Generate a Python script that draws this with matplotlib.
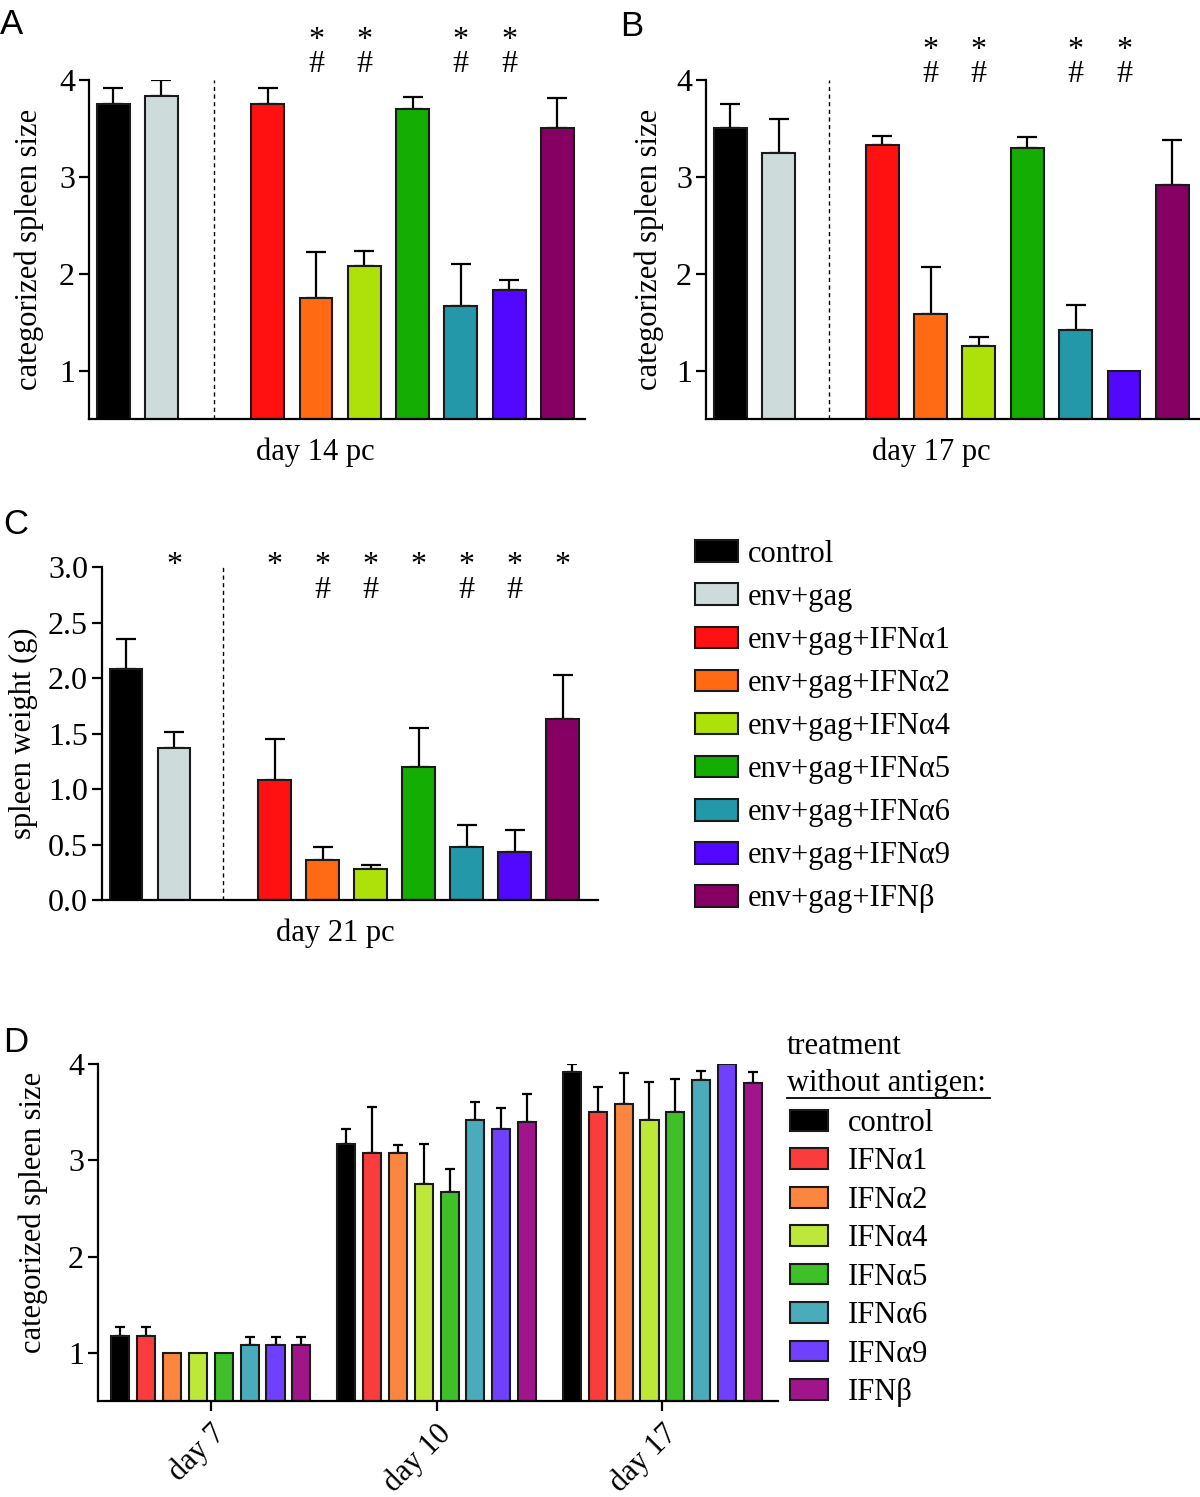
import matplotlib
matplotlib.use('Agg')
import matplotlib.pyplot as plt
from matplotlib.lines import Line2D
import numpy as np

plt.rcParams['font.family'] = ['Liberation Serif', 'DejaVu Serif']
plt.rcParams['font.size'] = 22
plt.rcParams['axes.linewidth'] = 1.6

# groups with antigen (panels A-C)
groups = ['control', 'env+gag', 'env+gag+IFNα1', 'env+gag+IFNα2', 'env+gag+IFNα4',
          'env+gag+IFNα5', 'env+gag+IFNα6', 'env+gag+IFNα9', 'env+gag+IFNβ']
colors = ['#000000', '#cddbdb', '#ff1111', '#ff6a12', '#aee00a',
          '#13ad03', '#2398a8', '#5208ff', '#860063']

a_mean = [3.75, 3.83, 3.75, 1.75, 2.08, 3.70, 1.67, 1.83, 3.50]
a_sem = [0.17, 0.17, 0.17, 0.47, 0.15, 0.12, 0.43, 0.10, 0.31]
a_star = [0, 0, 0, 1, 1, 0, 1, 1, 0]
a_hash = [0, 0, 0, 1, 1, 0, 1, 1, 0]

b_mean = [3.50, 3.25, 3.33, 1.58, 1.25, 3.30, 1.42, 1.00, 2.92]
b_sem = [0.25, 0.35, 0.09, 0.49, 0.10, 0.11, 0.26, 0.0, 0.46]
b_star = [0, 0, 0, 1, 1, 0, 1, 1, 0]
b_hash = [0, 0, 0, 1, 1, 0, 1, 1, 0]

c_mean = [2.085, 1.365, 1.08, 0.36, 0.28, 1.20, 0.48, 0.435, 1.635]
c_sem = [0.27, 0.15, 0.37, 0.12, 0.035, 0.35, 0.20, 0.195, 0.395]
c_star = [0, 1, 1, 1, 1, 1, 1, 1, 1]
c_hash = [0, 0, 0, 1, 1, 0, 1, 1, 0]

# treatment without antigen (panel D)
d_groups = ['control', 'IFNα1', 'IFNα2', 'IFNα4', 'IFNα5', 'IFNα6', 'IFNα9', 'IFNβ']
d_colors = ['#000000', '#fa3c3c', '#fc8640', '#bde83a', '#3fbf28', '#4aabbb', '#7040ff', '#a0168a']
d_days = ['day 7', 'day 10', 'day 17']
d_mean = [[1.17, 1.17, 1.00, 1.00, 1.00, 1.08, 1.08, 1.08],
          [3.17, 3.08, 3.08, 2.75, 2.67, 3.42, 3.33, 3.40],
          [3.92, 3.50, 3.58, 3.42, 3.50, 3.83, 4.00, 3.80]]
d_sem = [[0.10, 0.10, 0.0, 0.0, 0.0, 0.08, 0.08, 0.08],
         [0.16, 0.47, 0.08, 0.42, 0.24, 0.19, 0.21, 0.29],
         [0.08, 0.26, 0.33, 0.39, 0.34, 0.10, 0.0, 0.12]]

W, H = 1200, 1497
fig = plt.figure(figsize=(W / 100, H / 100), dpi=100)


def px_axes(x0, x1, y0, y1):
    return fig.add_axes([x0 / W, 1 - y1 / H, (x1 - x0) / W, (y1 - y0) / H])


def style(ax):
    for s in ['top', 'right']:
        ax.spines[s].set_visible(False)
    ax.tick_params(axis='y', length=7, width=1.6, pad=3, labelsize=23)


def pc_panel(ax, mean, sem, star, hsh, gap, right, ylim, ticks, ticklabels, mark_y):
    x = np.array([0, 1] + [i + gap for i in range(2, 9)], dtype=float)
    bars = ax.bar(x, mean, width=0.68, color=colors, edgecolor='#1a1a1a',
                  linewidth=1.5, zorder=2)
    up = np.array(sem)
    keep = up > 0
    ax.errorbar(x[keep], np.array(mean)[keep], yerr=[np.zeros(keep.sum()), up[keep]],
                fmt='none', ecolor='black', elinewidth=1.6, capsize=7, capthick=1.6,
                zorder=1)
    ax.axvline((1 + x[2]) / 2 - 0.02, color='black', lw=1, ls=(0, (3, 2.5)), zorder=0)
    # significance marks: * above, # below
    for xi, s, h in zip(x, star, hsh):
        mark = '\n'.join([m for m, on in (('*', s), ('#', h)) if on])
        if mark:
            ax.text(xi, mark_y, mark, ha='center', va='top', fontsize=23,
                    linespacing=0.78, clip_on=False)
    ax.set_xlim(-0.5, right)
    ax.set_ylim(*ylim)
    ax.set_yticks(ticks)
    ax.set_yticklabels(ticklabels)
    ax.set_xticks([])
    style(ax)
    return bars


# panel A
ax_a = px_axes(89, 585, 80, 419)
pc_panel(ax_a, a_mean, a_sem, a_star, a_hash, 1.2, 9.77, (0.5, 4), [1, 2, 3, 4],
         ['1', '2', '3', '4'], 4.555)
ax_a.set_ylabel('categorized spleen size', fontsize=22)
ax_a.yaxis.set_label_coords(-0.09, 0.5)
ax_a.set_xlabel('day 14 pc', fontsize=22)
ax_a.xaxis.set_label_coords(0.456, -0.055)

# panel B
ax_b = px_axes(706, 1200, 80, 419)
pc_panel(ax_b, b_mean, b_sem, b_star, b_hash, 1.14, 9.71, (0.5, 4), [1, 2, 3, 4],
         ['1', '2', '3', '4'], 4.455)
ax_b.set_ylabel('categorized spleen size', fontsize=22)
ax_b.yaxis.set_label_coords(-0.085, 0.5)
ax_b.set_xlabel('day 17 pc', fontsize=22)
ax_b.xaxis.set_label_coords(0.457, -0.055)

# panel C
ax_c = px_axes(102, 598, 567, 900)
bars_c = pc_panel(ax_c, c_mean, c_sem, c_star, c_hash, 1.1, 9.84, (0, 3),
                  [0, 0.5, 1, 1.5, 2, 2.5, 3],
                  ['0.0', '0.5', '1.0', '1.5', '2.0', '2.5', '3.0'], 3.14)
ax_c.set_ylabel('spleen weight (g)', fontsize=22)
ax_c.yaxis.set_label_coords(-0.13, 0.5)
ax_c.set_xlabel('day 21 pc', fontsize=22)
ax_c.xaxis.set_label_coords(0.47, -0.055)

fig.legend(handles=list(bars_c.patches), labels=groups, loc='upper left',
           bbox_to_anchor=(695 / W, 1 - 540 / H), frameon=False, fontsize=22,
           borderpad=0, borderaxespad=0, handlelength=1.4, handleheight=0.72,
           handletextpad=0.33, labelspacing=0.46)

# panel D
ax_d = px_axes(98, 778, 1064, 1401)
day_x = np.arange(len(d_days))
pitch = 0.1145
mean_t = np.array(d_mean).T
sem_t = np.array(d_sem).T
d_handles = []
for i, (name, col) in enumerate(zip(d_groups, d_colors)):
    xs = day_x + (i - 3.5) * pitch
    b = ax_d.bar(xs, mean_t[i], width=0.08, color=col, edgecolor='#1a1a1a',
                 linewidth=1.5, zorder=2)
    d_handles.append(b.patches[0])
    keep = sem_t[i] > 0
    ax_d.errorbar(xs[keep], mean_t[i][keep], yerr=[np.zeros(keep.sum()), sem_t[i][keep]],
                  fmt='none', ecolor='black', elinewidth=1.6, capsize=3.5, capthick=1.6,
                  zorder=1)
ax_d.set_xlim(-0.5, 2.512)
ax_d.set_ylim(0.5, 4)
ax_d.set_yticks([1, 2, 3, 4])
ax_d.set_xticks(day_x)
ax_d.set_xticklabels(d_days, rotation=45, ha='right', va='top', rotation_mode='anchor')
style(ax_d)
ax_d.tick_params(axis='x', length=7, width=1.6, pad=6, labelsize=22)
ax_d.set_ylabel('categorized spleen size', fontsize=22)
ax_d.yaxis.set_label_coords(-0.074, 0.56)

fig.text(787 / W, 1 - 1046 / H, 'treatment', fontsize=22, va='center', ha='left')
fig.text(787 / W, 1 - 1084 / H, 'without antigen:', fontsize=22, va='center', ha='left')
fig.add_artist(Line2D([787 / W, 990 / W], [1 - 1098 / H, 1 - 1098 / H],
                      color='black', lw=1.3))
fig.legend(handles=d_handles, labels=d_groups, loc='upper left',
           bbox_to_anchor=(790 / W, 1 - 1109 / H), frameon=False, fontsize=22,
           borderpad=0, borderaxespad=0, handlelength=1.24, handleheight=0.66,
           handletextpad=0.65, labelspacing=0.31)

# panel letters
for lab, xx, yy in [('A', 0, 8), ('B', 620, 10), ('C', 3, 508), ('D', 3, 1026)]:
    fig.text(xx / W, 1 - yy / H, lab, fontsize=25, family='Liberation Sans',
             va='top', ha='left')

fig.savefig('out.png', dpi=100)
